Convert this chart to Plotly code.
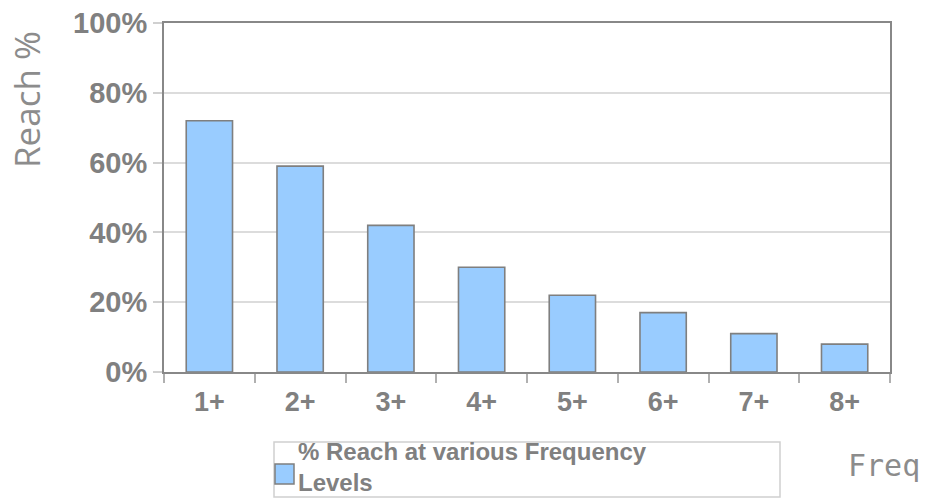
import plotly.graph_objects as go

categories = ["1+", "2+", "3+", "4+", "5+", "6+", "7+", "8+"]
reach = [72, 59, 42, 30, 22, 17, 11, 8]
y_ticks = [0, 20, 40, 60, 80, 100]
y_tick_labels = ["0%", "20%", "40%", "60%", "80%", "100%"]
legend_lines = ["% Reach at various Frequency", "Levels"]

W, H = 926, 499
ml, mr, mt, mb = 164, 36, 23, 127
pw = W - ml - mr
ph = H - mt - mb

def px_x(x):
    return (x - ml) / pw

def px_y(y):
    return (H - mb - y) / ph

gray = "#808080"
bar_fill = "#99ccff"
bar_line = "#7f7f7f"

fig = go.Figure()
fig.add_trace(go.Bar(
    x=categories, y=reach, name=" ".join(legend_lines),
    marker=dict(color=bar_fill, line=dict(color=bar_line, width=1.6)),
    showlegend=False,
))

shapes = [
    # legend frame
    dict(type="rect", xref="paper", yref="paper",
         x0=px_x(274), x1=px_x(780), y0=px_y(497), y1=px_y(442),
         line=dict(color="#d0d0d0", width=1.5), fillcolor="white", layer="above"),
    # legend swatch
    dict(type="rect", xref="paper", yref="paper",
         x0=px_x(275), x1=px_x(294), y0=px_y(484), y1=px_y(464),
         line=dict(color=bar_line, width=1.5), fillcolor=bar_fill, layer="above"),
]

annotations = [
    dict(text="Reach %", xref="paper", yref="paper",
         x=px_x(26), y=px_y(100), textangle=-90,
         xanchor="center", yanchor="middle", showarrow=False,
         font=dict(family="Open Sans", size=35, color="#8c8c8c")),
    dict(text="Freq", xref="paper", yref="paper",
         x=px_x(846), y=px_y(465),
         xanchor="left", yanchor="middle", showarrow=False,
         font=dict(family="DejaVu Sans Mono", size=30, color="#8c8c8c")),
    dict(text="<br>".join(legend_lines), xref="paper", yref="paper",
         x=px_x(296), y=px_y(467), xanchor="left", yanchor="middle",
         align="left", showarrow=False,
         font=dict(family="Liberation Sans, Arial", size=24, color=gray, weight="bold")),
]

fig.update_layout(
    width=W, height=H,
    margin=dict(l=ml, r=mr, t=mt, b=mb, autoexpand=False),
    paper_bgcolor="white", plot_bgcolor="white",
    bargap=0.49,
    font=dict(family="Liberation Sans, Arial", color=gray),
    showlegend=False,
    shapes=shapes,
    annotations=annotations,
    xaxis=dict(
        showline=True, linecolor="#888888", linewidth=2, mirror=True,
        ticks="outside", tickson="boundaries", ticklen=9, tickcolor="#b0b0b0", tickwidth=1.5,
        tickfont=dict(size=27, color=gray, weight="bold"),
        ticklabelstandoff=5,
        showgrid=False,
    ),
    yaxis=dict(
        range=[0, 100], tickvals=y_ticks, ticktext=y_tick_labels,
        showline=True, linecolor="#888888", linewidth=2, mirror=True,
        ticks="outside", ticklen=9, tickcolor="#d0d0d0", tickwidth=1.5,
        tickfont=dict(size=29, color=gray, weight="bold"),
        showgrid=True, gridcolor="#dcdcdc", gridwidth=1.5,
        zeroline=False,
    ),
)

fig.write_html("out.html")
